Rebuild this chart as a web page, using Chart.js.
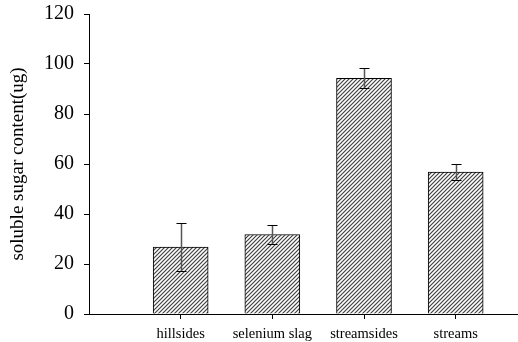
<!DOCTYPE html>
<html>
<head>
<meta charset="utf-8">
<script src="https://cdn.jsdelivr.net/npm/chart.js@4/dist/chart.umd.min.js"></script>
<style>
  html, body { margin: 0; padding: 0; background: #fff; overflow: hidden; }
  #wrap { width: 518px; height: 342px; }
</style>
</head>
<body>
<div id="wrap"><canvas id="c" width="518" height="342"></canvas></div>
<script>
// Soluble sugar content by site type
const categories = ['hillsides', 'selenium slag', 'streamsides', 'streams'];
const means = [26.8, 31.8, 94.3, 56.8];
const errors = [9.5, 3.8, 4.0, 3.2];
const yTicks = [0, 20, 40, 60, 80, 100, 120];

// diagonal hatch fill for the bars
function hatchPattern() {
  const s = 4;
  const p = document.createElement('canvas');
  p.width = s; p.height = s;
  const g = p.getContext('2d');
  g.fillStyle = '#ffffff';
  g.fillRect(0, 0, s, s);
  g.strokeStyle = '#404040';
  g.lineWidth = 1.2;
  g.beginPath();
  g.moveTo(-1, s + 1); g.lineTo(s + 1, -1);
  g.moveTo(-1, 1); g.lineTo(1, -1);
  g.moveTo(s - 1, s + 1); g.lineTo(s + 1, s - 1);
  g.stroke();
  return g.createPattern(p, 'repeat');
}

// error bars drawn on top of each bar
const errorBars = {
  id: 'errorBars',
  afterDatasetsDraw(chart) {
    const ctx = chart.ctx;
    const xs = chart.scales.x, ys = chart.scales.y;
    ctx.save();
    means.forEach((m, i) => {
      const x = Math.round(xs.getPixelForValue(i + 1)) + 0.5;
      const yTop = ys.getPixelForValue(m + errors[i]);
      const yBot = ys.getPixelForValue(m - errors[i]);
      ctx.strokeStyle = '#555555';
      ctx.lineWidth = 1.5;
      ctx.beginPath();
      ctx.moveTo(x, yTop); ctx.lineTo(x, yBot);
      ctx.stroke();
      ctx.strokeStyle = '#000000';
      ctx.lineWidth = 1;
      ctx.beginPath();
      ctx.moveTo(x - 5, Math.round(yTop) + 0.5); ctx.lineTo(x + 5, Math.round(yTop) + 0.5);
      ctx.moveTo(x - 5, Math.round(yBot) + 0.5); ctx.lineTo(x + 5, Math.round(yBot) + 0.5);
      ctx.stroke();
    });
    ctx.restore();
  }
};

const serif = '"Liberation Serif", "Times New Roman", serif';

new Chart(document.getElementById('c'), {
  type: 'bar',
  data: {
    datasets: [{
      data: means.map((v, i) => ({ x: i + 1, y: v })),
      backgroundColor: hatchPattern(),
      borderColor: '#000000',
      borderWidth: 1,
      barThickness: 55
    }]
  },
  options: {
    responsive: false,
    animation: false,
    layout: { padding: { top: 14, right: 0, bottom: 0, left: 0 } },
    plugins: { legend: { display: false }, tooltip: { enabled: false } },
    scales: {
      x: {
        type: 'linear',
        min: 0,
        max: 4.68,
        offset: false,
        grid: { display: true, offset: false, drawOnChartArea: false, drawTicks: true, tickLength: 5, color: '#000000' },
        border: { display: true, color: '#000000', width: 1 },
        afterBuildTicks(scale) { scale.ticks = categories.map((c, i) => ({ value: i + 1 })); },
        ticks: {
          autoSkip: false,
          maxRotation: 0,
          padding: 6,
          color: '#000000',
          font: { family: serif, size: 14.5 },
          callback(v) { return categories[v - 1] || ''; }
        },
        afterFit(scale) { scale.height = 28; scale.paddingLeft = 0; scale.paddingRight = 0; }
      },
      y: {
        min: 0,
        max: 120,
        afterBuildTicks(scale) { scale.ticks = yTicks.map(v => ({ value: v })); },
        grid: { display: true, drawOnChartArea: false, drawTicks: true, tickLength: 5, color: '#000000' },
        border: { display: true, color: '#000000', width: 1 },
        ticks: {
          padding: 10,
          color: '#000000',
          font: { family: serif, size: 20 }
        },
        title: {
          display: true,
          text: 'soluble sugar content(ug)',
          color: '#000000',
          font: { family: serif, size: 19 },
          padding: { top: 7, bottom: 4 }
        },
        afterFit(scale) { scale.width = 89; scale.paddingTop = 0; scale.paddingBottom = 0; }
      }
    }
  },
  plugins: [errorBars]
});
</script>
</body>
</html>
